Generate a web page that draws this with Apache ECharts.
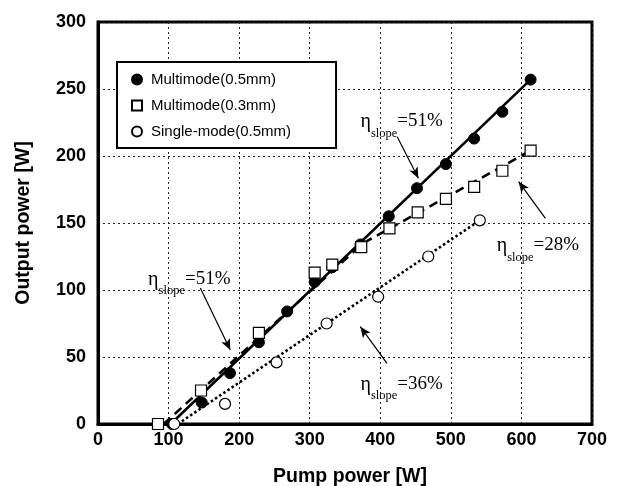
<!DOCTYPE html>
<html>
<head>
<meta charset="utf-8">
<script src="https://cdn.jsdelivr.net/npm/echarts@6/dist/echarts.min.js"></script>
<style>html,body{margin:0;padding:0;background:#fff}#c{width:626px;height:486px}</style>
</head>
<body>
<div id="c"></div>
<script>
// ---- data ----
var multi05 = [[105,0],[147,16],[187,38],[228,61],[268,84],[307,106],[332,117],[372,134],[412,155],[452,176],[493,194],[533,213],[573,233],[613,257]];
var multi03 = [[85,0],[146,25],[228,68],[307,113],[332,119],[373,132],[413,146],[453,158],[493,168],[533,177],[573,189],[613,204]];
var single05 = [[108,0],[180,15],[253,46],[324,75],[397,95],[468,125],[541,152]];
var fit05 = [[103,0],[613,257]];
var fit03 = [[93,0],[376,135],[613,204]];
var fitSingle = [[113,0],[541,152]];
var xTicks = {min:0, max:700, interval:100};
var yTicks = {min:0, max:300, interval:50};
// annotations: [label value, text anchor (top-left), arrow start, arrow end]
var annotValues = ['=51%','=28%','=51%','=36%'];
var annotText = [[372,232.9],[565,140.3],[71,115.3],[372,36.8]];
var arrowFrom = [[424,214.4],[634,153.5],[145,101.5],[409.5,45.3]];
var arrowTo = [[454,183.4],[596,180.8],[187.5,55.2],[371.7,72.6]];
var legendNames = ['Multimode(0.5mm)','Multimode(0.3mm)','Single-mode(0.5mm)'];

var chart = echarts.init(document.getElementById('c'), null, {renderer:'canvas'});
var sans = 'Liberation Sans, Arial, sans-serif';
var serif = 'Liberation Serif, Times New Roman, serif';

var markPts = annotText.map(function(p,i){
  return {coord:p, value:annotValues[i], symbol:'rect', symbolSize:0,
    label:{show:true, position:[0,0], align:'left', verticalAlign:'top',
      formatter:'{eta|η}{sub|slope}{eq|'+annotValues[i]+'}',
      rich:{
        eta:{fontFamily:serif, fontSize:20, lineHeight:20, verticalAlign:'top', color:'#000'},
        eq:{fontFamily:serif, fontSize:19, lineHeight:20, verticalAlign:'top', color:'#000'},
        sub:{fontFamily:serif, fontSize:12.5, lineHeight:14, padding:[15,0,0,0], verticalAlign:'top', color:'#000'}
      }}};
});
var markLines = arrowFrom.map(function(p,i){ return [{coord:p},{coord:arrowTo[i]}]; });

var option = {
  animation:false,
  backgroundColor:'#fff',
  grid:{left:98, right:34, top:22, bottom:62, show:true, borderColor:'#000', borderWidth:3,
    backgroundColor:'transparent', containLabel:false, outerBoundsMode:'none'},
  legend:{
    data:legendNames, orient:'vertical', left:117, top:62,
    itemWidth:10, itemHeight:10, itemGap:11,
    padding:[10,45,9,14],
    borderColor:'#000', borderWidth:2, backgroundColor:'#fff',
    textStyle:{fontFamily:sans, fontSize:15, color:'#000', lineHeight:14, padding:[0,0,0,4]},
    selectedMode:false
  },
  xAxis:{
    type:'value', min:xTicks.min, max:xTicks.max, interval:xTicks.interval,
    name:'Pump power [W]', nameLocation:'middle', nameGap:43,
    nameTextStyle:{fontFamily:sans, fontWeight:'bold', fontSize:19.5, color:'#000', padding:[0,0,0,10]},
    axisLine:{show:true, lineStyle:{color:'#000', width:3}},
    axisTick:{show:false},
    axisLabel:{fontFamily:sans, fontWeight:'bold', fontSize:18, color:'#000', margin:7},
    splitLine:{show:true, lineStyle:{color:'#222', width:1, type:[2,3]}}
  },
  yAxis:{
    type:'value', min:yTicks.min, max:yTicks.max, interval:yTicks.interval,
    name:'Output power [W]', nameLocation:'middle', nameGap:64,
    nameTextStyle:{fontFamily:sans, fontWeight:'bold', fontSize:19.5, color:'#000'},
    axisLine:{show:true, lineStyle:{color:'#000', width:3}},
    axisTick:{show:false},
    axisLabel:{fontFamily:sans, fontWeight:'bold', fontSize:18, color:'#000', margin:12},
    splitLine:{show:true, lineStyle:{color:'#222', width:1, type:[2,3]}}
  },
  series:[
    {name:'fit05', type:'line', data:fit05, symbol:'none', z:2,
      lineStyle:{color:'#000', width:2.6, type:'solid'}},
    {name:'fit03', type:'line', data:fit03, symbol:'none', z:2,
      lineStyle:{color:'#000', width:2.6, type:[9,6]}},
    {name:'fitSingle', type:'line', data:fitSingle, symbol:'none', z:2,
      lineStyle:{color:'#000', width:2.6, type:[2.5,2.5]},
      markPoint:{data:markPts, silent:true},
      markLine:{silent:true, symbol:['none','arrow'], symbolSize:[7,11],
        lineStyle:{color:'#000', width:1.2, type:'solid'}, label:{show:false}, data:markLines}},
    {name:legendNames[0], type:'scatter', data:multi05, symbol:'circle', symbolSize:11, z:3,
      itemStyle:{color:'#000', borderColor:'#000', borderWidth:1, opacity:1}},
    {name:legendNames[1], type:'scatter', data:multi03, symbol:'rect', symbolSize:11, z:4,
      itemStyle:{color:'#fff', borderColor:'#000', borderWidth:1.2, opacity:1}},
    {name:legendNames[2], type:'scatter', data:single05, symbol:'circle', symbolSize:11, z:5,
      itemStyle:{color:'#fff', borderColor:'#000', borderWidth:1.2, opacity:1}}
  ]
};
chart.setOption(option);
</script>
</body>
</html>
